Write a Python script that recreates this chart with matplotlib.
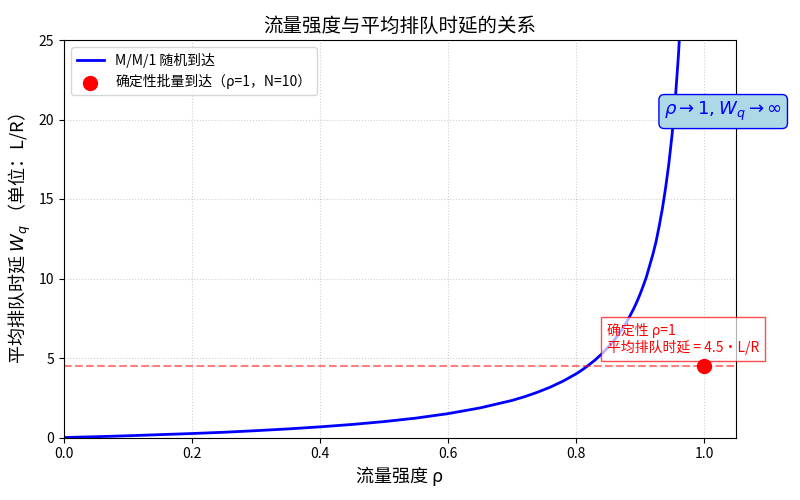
import matplotlib
matplotlib.use("Agg")
import matplotlib.pyplot as plt

plt.rcParams['font.family'] = ['Noto Sans CJK SC', 'DejaVu Sans']
plt.rcParams['axes.unicode_minus'] = False

# 读图得到的 M/M/1 曲线点
rho = [0.0, 0.05, 0.1, 0.15, 0.2, 0.25, 0.3, 0.35, 0.4, 0.45, 0.5, 0.55, 0.6, 0.65,
       0.7, 0.72, 0.74, 0.76, 0.78, 0.8, 0.81, 0.82, 0.83, 0.84, 0.85, 0.86, 0.865,
       0.87, 0.875, 0.88, 0.885, 0.89, 0.895, 0.9, 0.905, 0.91, 0.915, 0.92, 0.925,
       0.93, 0.935, 0.94, 0.945, 0.95, 0.955, 0.96, 0.965, 0.97]
wq = [0.0, 0.05, 0.11, 0.18, 0.25, 0.33, 0.43, 0.54, 0.67, 0.82, 1.0, 1.22, 1.5, 1.86,
      2.33, 2.57, 2.85, 3.17, 3.55, 4.0, 4.26, 4.56, 4.88, 5.25, 5.67, 6.14, 6.41,
      6.69, 7.0, 7.33, 7.7, 8.09, 8.52, 9.0, 9.53, 10.1, 10.8, 11.5, 12.3,
      13.3, 14.4, 15.7, 17.2, 19.0, 21.2, 24.0, 27.6, 32.3]

det_rho = [1.0]
det_wq = [4.5]

fig, ax = plt.subplots(figsize=(8, 5), dpi=100)

ax.plot(rho, wq, color="blue", lw=2, label="M/M/1 随机到达")
ax.scatter(det_rho, det_wq, color="red", s=100, zorder=5,
           label="确定性批量到达（ρ=1，N=10）")
ax.axhline(det_wq[0], color="red", ls="--", alpha=0.5)

ax.text(0.848, 6.2, "确定性 ρ=1\n平均排队时延 = 4.5·L/R", color="red", fontsize=10,
        va="center", ha="left",
        bbox=dict(facecolor="white", edgecolor="red", alpha=0.7))

ax.text(1.03, 20.5, r"$\rho \rightarrow 1, W_q \rightarrow \infty$", color="blue",
        fontsize=13, ha="center", va="center",
        bbox=dict(boxstyle="round", facecolor="lightblue", edgecolor="blue"))

ax.set_xlim(0, 1.05)
ax.set_ylim(0, 25)
ax.set_title("流量强度与平均排队时延的关系", fontsize=14)
ax.set_xlabel("流量强度 ρ", fontsize=13)
ax.set_ylabel(r"平均排队时延 $W_q$ （单位：L/R）", fontsize=13)
ax.grid(True, ls=":", alpha=0.6)
ax.legend(loc="upper left")

plt.subplots_adjust(left=0.08, right=0.92, top=0.92, bottom=0.125)
plt.savefig("out.png")
